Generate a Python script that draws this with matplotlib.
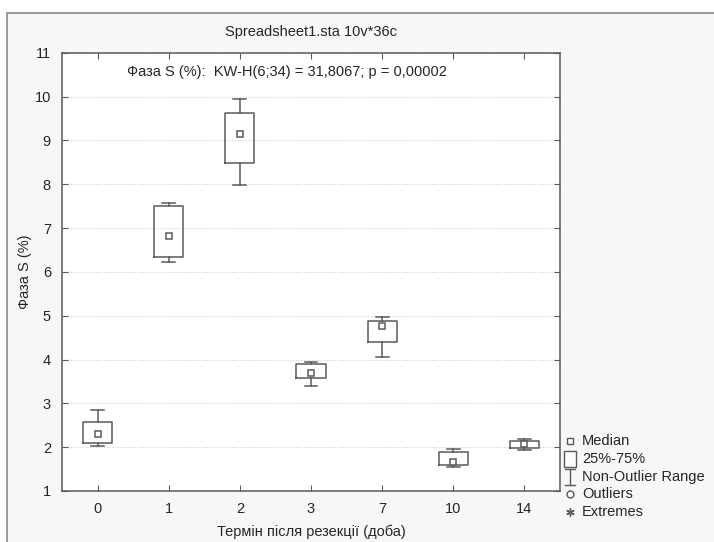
import matplotlib.pyplot as plt
import matplotlib.patches as mpatches
from matplotlib.lines import Line2D
import numpy as np

plt.rcParams['font.family'] = ['Liberation Sans', 'DejaVu Sans']

days = ["0", "1", "2", "3", "7", "10", "14"]
medians = [2.29, 6.81, 9.15, 3.69, 4.76, 1.66, 2.07]
q1 = [2.09, 6.33, 8.49, 3.57, 4.39, 1.60, 1.98]
q3 = [2.57, 7.51, 9.63, 3.89, 4.87, 1.90, 2.13]
whis_lo = [2.02, 6.22, 7.99, 3.40, 4.05, 1.54, 1.93]
whis_hi = [2.84, 7.58, 9.95, 3.95, 4.98, 1.95, 2.18]

title = "Spreadsheet1.sta 10v*36c"
stat_text = "Фаза S (%):  KW-H(6;34) = 31,8067; p = 0,00002"
xlabel = "Термін після резекції (доба)"
ylabel = "Фаза S (%)"

line_c = "#5a5a5a"
text_c = "#262626"

fig = plt.figure(figsize=(7.14, 5.42), dpi=100)
fig.patch.set_facecolor("white")
# outer panel frame
fig.add_artist(mpatches.Rectangle((7/714, -0.05), 1.0, (542-13)/542 + 0.05,
                                  transform=fig.transFigure, facecolor="#f7f7f7",
                                  edgecolor="#8a8a8a", linewidth=1.2, zorder=0))

ax = fig.add_axes([62/714, 51/542, (560-62)/714, (491-52.7)/542])
ax.set_facecolor("white")

pos = np.arange(len(days))
stats = []
for i in range(len(days)):
    stats.append({"med": medians[i], "q1": q1[i], "q3": q3[i],
                  "whislo": whis_lo[i], "whishi": whis_hi[i], "fliers": []})

ax.bxp(stats, positions=pos, widths=0.41, showfliers=False,
       boxprops=dict(color=line_c, linewidth=1.1),
       whiskerprops=dict(color=line_c, linewidth=1.1),
       capprops=dict(color=line_c, linewidth=1.1),
       capwidths=0.18,
       medianprops=dict(linestyle="none"), zorder=3)
ax.plot(pos, medians, "s", markersize=5, markerfacecolor="white",
        markeredgecolor=line_c, markeredgewidth=1.1, linestyle="none", zorder=4)

ax.set_xlim(-0.5, len(days) - 0.5)
ax.set_ylim(1, 11)
ax.set_xticks(pos)
ax.set_xticklabels(days)
ax.set_yticks(np.arange(1, 12))
ax.yaxis.grid(True, linestyle=(0, (1, 1.5)), color="#d0d0d0", linewidth=0.8)
ax.set_axisbelow(True)
ax.tick_params(direction="in", length=4, color=line_c, labelsize=10.5,
               labelcolor=text_c, top=True, right=True, pad=8)
for s in ax.spines.values():
    s.set_color(line_c)
    s.set_linewidth(1.1)

ax.set_xlabel(xlabel, fontsize=10.5, color=text_c, labelpad=6)
ax.set_ylabel(ylabel, fontsize=10.5, color=text_c, labelpad=2)
fig.text(311/714, 1 - 32/542, title, ha="center", va="center", fontsize=10.5, color=text_c)
ax.text((127-62)/498, 1 - (72-52.7)/438.3, stat_text, transform=ax.transAxes,
        ha="left", va="center", fontsize=10.5, color=text_c)

# legend drawn by hand, Statistica style
tf = fig.transFigure
def fy(y):
    return 1 - y/542
def fx(x):
    return x/714
lx = 570
labels = ["Median", "25%-75%", "Non-Outlier Range", "Outliers", "Extremes"]
ys = [441, 459, 477, 494, 512]
for lab, y in zip(labels, ys):
    fig.text(fx(582), fy(y), lab, ha="left", va="center", fontsize=10.5, color=text_c)
fig.add_artist(Line2D([fx(lx)], [fy(ys[0])], marker="s", markersize=5, markerfacecolor="white",
                      markeredgecolor=line_c, markeredgewidth=1, transform=tf))
fig.add_artist(mpatches.Rectangle((fx(lx-6), fy(ys[1]+8)), 12/714, 16/542, transform=tf,
                                  facecolor="white", edgecolor=line_c, linewidth=1))
fig.add_artist(Line2D([fx(lx), fx(lx)], [fy(ys[2]-8), fy(ys[2]+8)], color=line_c, lw=1, transform=tf))
fig.add_artist(Line2D([fx(lx-5), fx(lx+5)], [fy(ys[2]+8), fy(ys[2]+8)], color=line_c, lw=1, transform=tf))
fig.add_artist(Line2D([fx(lx-5), fx(lx+5)], [fy(ys[2]-8), fy(ys[2]-8)], color=line_c, lw=1, transform=tf))
fig.add_artist(Line2D([fx(lx)], [fy(ys[3])], marker="o", markersize=5, markerfacecolor="white",
                      markeredgecolor=line_c, markeredgewidth=1, transform=tf))
fig.add_artist(Line2D([fx(lx)], [fy(ys[4])], marker=(6, 2, 0), markersize=6,
                      markeredgecolor=line_c, markeredgewidth=1, transform=tf))

fig.savefig("out.png", dpi=100, facecolor=fig.get_facecolor())
